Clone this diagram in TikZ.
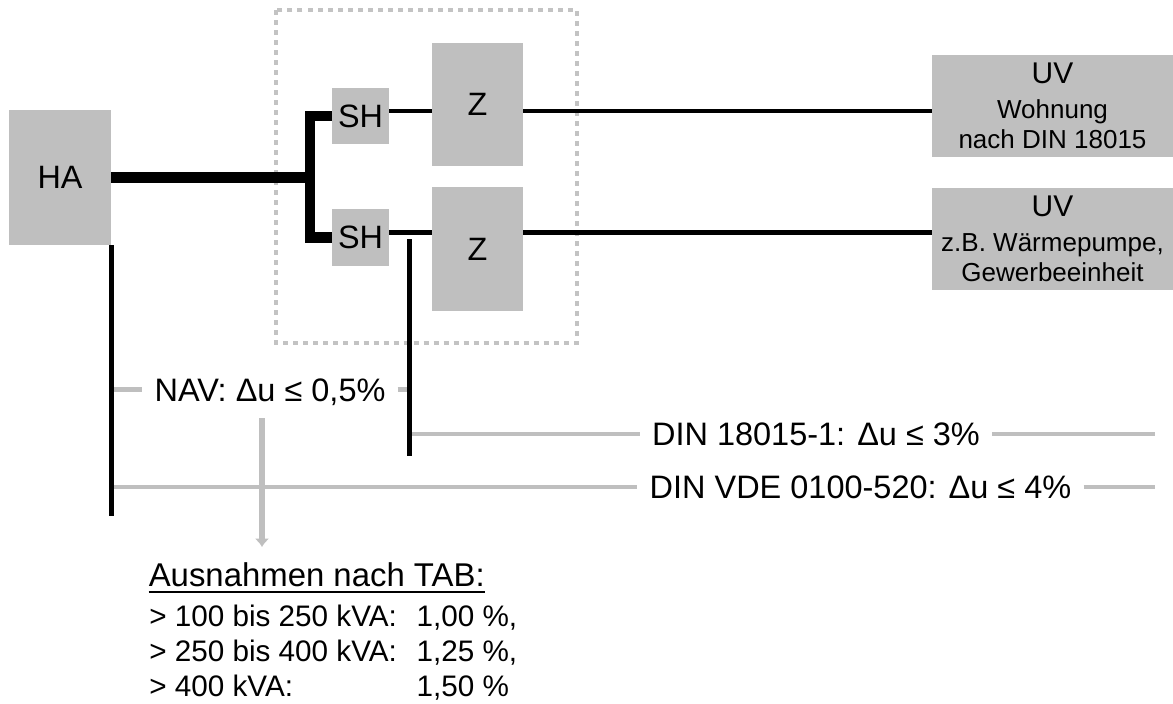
\documentclass[tikz,border=0pt]{standalone}
\usepackage{fontspec}
\setmainfont{Liberation Sans}
\usetikzlibrary{arrows.meta}
\definecolor{boxgray}{RGB}{191,191,191}
\definecolor{framegray}{RGB}{195,195,195}
\newcommand{\pxu}{0.025cm}

\begin{document}
\begin{tikzpicture}[x=0.025cm,y=-0.025cm,
    unit/.style={fill=boxgray,inner sep=0pt,font=\fontsize{23}{27}\selectfont},
    uvbox/.style={fill=boxgray,inner sep=0pt,align=center,
      minimum width=241*\pxu,minimum height=102*\pxu,
      font=\fontsize{18.5}{21.3}\selectfont},
    feeder/.style={line width=7.8pt},
    bracket/.style={line width=7.5pt},
    cable/.style={line width=3.5pt},
    limit/.style={inner xsep=8.5pt,inner ysep=0pt,text height=16.5pt,text depth=0pt,
      font=\fontsize{23.1}{27}\selectfont},
    limitline/.style={boxgray,line width=3.2pt},
    frame/.style={framegray,line width=3.5pt,dash pattern=on 3.56pt off 3.56pt}]
  \useasboundingbox (0,0) rectangle (1173,704);

  \draw[frame] (276,10) rectangle (577,343);

  \node[unit,minimum width=102*\pxu,minimum height=135*\pxu] (HA) at (60,177.5) {HA};
  \node[unit,minimum width=57*\pxu,minimum height=56*\pxu] (SH1) at (360.5,116) {SH};
  \node[unit,minimum width=57*\pxu,minimum height=57*\pxu] (SH2) at (360.5,237.5) {SH};
  \node[unit,minimum width=91*\pxu,minimum height=123*\pxu] (Z1) at (477.5,104.5) {Z};
  \node[unit,minimum width=91*\pxu,minimum height=124*\pxu] (Z2) at (477.5,249) {Z};
  \node[uvbox] (UV1) at (1052.5,106)
    {{\fontsize{21.3}{24}\selectfont UV}\\[3.6pt]Wohnung\\nach DIN 18015};
  \node[uvbox] (UV2) at (1052.5,239)
    {{\fontsize{21.3}{24}\selectfont UV}\\[3.6pt]z.B. Wärmepumpe,\\Gewerbeeinheit};

  \coordinate (split) at (310,177.5);
  \coordinate (upper) at (0,111);
  \coordinate (lower) at (0,232.5);
  \coordinate (meterTop) at (409.5,239);
  \coordinate (meterFoot) at (409.5,456);
  \coordinate (haFoot) at (110.5,516);
  \coordinate (lineEnd) at (1155,0);
  \coordinate (navFoot) at (262,418);
  \coordinate (tabTop) at (262,547);

  \draw[feeder] (HA) -- (split);
  \draw[bracket] (SH1.west) -| (split) |- (SH2.west);
  \draw[cable] (SH1.east |- upper) -- (Z1.west |- upper);
  \draw[cable] (Z1.east |- upper) -- (UV1.west |- upper);
  \draw[cable] (SH2.east |- lower) -- (Z2.west |- lower);
  \draw[cable] (Z2.east |- lower) -- (UV2.west |- lower);

  \node[limit] (nav) at (270,389.5) {NAV: Δu ≤ 0,5\%};
  \node[limit] (dinA) at (816,434) {DIN 18015-1: Δu ≤ 3\%};
  \node[limit] (dinB) at (860.5,487) {DIN VDE 0100-520: Δu ≤ 4\%};

  \draw[limitline] (haFoot |- nav) -- (nav);
  \draw[limitline] (nav) -- (meterTop |- nav);
  \draw[limitline] (meterTop |- dinA) -- (dinA);
  \draw[limitline] (dinA) -- (lineEnd |- dinA);
  \draw[limitline] (haFoot |- dinB) -- (dinB);
  \draw[limitline] (dinB) -- (lineEnd |- dinB);
  \draw[limitline,line width=4pt,-{Latex[length=6pt,width=10.5pt]}] (navFoot) -- (tabTop);

  \draw[line width=3.2pt] (HA.south east) -- (HA.south east |- haFoot);
  \draw[line width=3.2pt] (meterTop) -- (meterFoot);

  \node[anchor=base west,inner sep=0pt,font=\fontsize{23.4}{27}\selectfont] (tabHead)
    at (148.5,586.7) {Ausnahmen nach TAB:};
  \draw[line width=1.4pt] ([yshift=-3.8pt]tabHead.base west) -- ([yshift=-3.8pt]tabHead.base east);
  \node[anchor=base west,inner sep=0pt,font=\fontsize{21.1}{24.9}\selectfont] (tabRows)
    at (149,626) {\begin{tabular}[t]{@{}l@{\hspace{14pt}}l@{}}
      > 100 bis 250 kVA: & 1,00 \%,\\
      > 250 bis 400 kVA: & 1,25 \%,\\
      > 400 kVA: & 1,50 \%
    \end{tabular}};
\end{tikzpicture}
\end{document}
